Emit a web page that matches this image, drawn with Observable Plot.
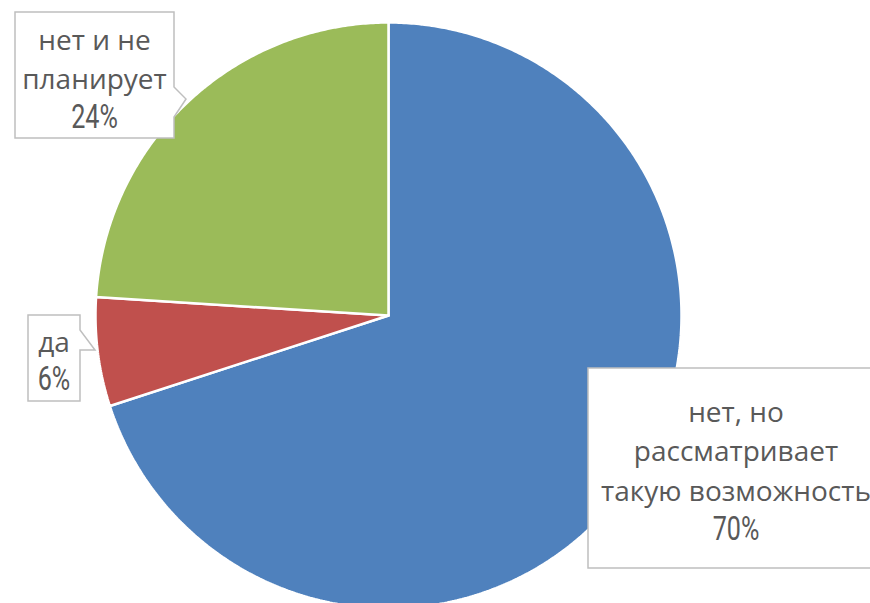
<!DOCTYPE html>
<html>
<head>
<meta charset="utf-8">
<script src="https://cdn.jsdelivr.net/npm/d3@7"></script>
<script src="https://cdn.jsdelivr.net/npm/@observablehq/plot@0.6"></script>
<style>
  html, body { margin: 0; padding: 0; background: #ffffff; }
  #chart { width: 870px; height: 603px; overflow: hidden; }
</style>
</head>
<body>
<div id="chart"></div>
<script>
// ---- data ----
const categories = ["нет, но рассматривает такую возможность", "да", "нет и не планирует"];
const labelLines = [["нет, но", "рассматривает", "такую возможность"], ["да"], ["нет и не", "планирует"]];
const values = [70, 6, 24];
const colors = ["#4F81BD", "#C0504D", "#9BBB59"];

// ---- layout of the callout boxes (pixels) ----
const callouts = [
  { box: [588, 368, 884, 568], pointer: null, cx: 736, baseline: 421.5, step: 39.5 },
  { box: [28, 315, 80, 401], pointer: [[80, 330], [95, 350], [80, 350]], cx: 54, baseline: 351.5, step: 38.5 },
  { box: [15, 12, 174, 138], pointer: [[174, 87], [186, 99], [174, 117]], cx: 94.5, baseline: 50, step: 39 }
];

// ---- build slice polygons from the values ----
const total = d3.sum(values);
const pts = [];
let acc = 0;
values.forEach((v, i) => {
  const a0 = acc / total * 2 * Math.PI;
  acc += v;
  const a1 = acc / total * 2 * Math.PI;
  const n = Math.max(2, Math.ceil((a1 - a0) / (Math.PI / 360)));
  pts.push({ name: categories[i], x: 0, y: 0 });
  for (let k = 0; k <= n; k++) {
    const a = a0 + (a1 - a0) * k / n;
    pts.push({ name: categories[i], x: Math.sin(a), y: Math.cos(a) });
  }
  pts.push({ name: categories[i], x: 0, y: 0 });
});

const chart = Plot.plot({
  width: 870,
  height: 603,
  margin: 0,
  style: { background: "#ffffff", overflow: "hidden" },
  x: { domain: [-1, 1], range: [95, 681], axis: null },
  y: { domain: [-1, 1], range: [608, 22], axis: null },
  color: { domain: categories, range: colors },
  marks: [
    Plot.line(pts, { x: "x", y: "y", z: "name", fill: "name", stroke: "#ffffff", strokeWidth: 2.5, strokeLinejoin: "miter" })
  ]
});
document.getElementById("chart").appendChild(chart);

// ---- callout labels ----
const svg = d3.select(chart);
const g = svg.append("g");
callouts.forEach((c, i) => {
  const [x0, y0, x1, y1] = c.box;
  let path = [[x0, y0], [x1, y0]];
  if (c.pointer) path = path.concat(c.pointer);
  path = path.concat([[x1, y1], [x0, y1]]);
  g.append("path")
    .attr("d", "M" + path.map(p => p.join(",")).join("L") + "Z")
    .attr("fill", "#ffffff")
    .attr("stroke", "#BFBFBF")
    .attr("stroke-width", 1.5);
  const lines = labelLines[i];
  lines.forEach((t, j) => {
    g.append("text")
      .attr("x", c.cx)
      .attr("y", c.baseline + j * c.step)
      .attr("text-anchor", "middle")
      .attr("font-family", "'Open Sans', 'Noto Sans', sans-serif")
      .attr("font-size", 28)
      .attr("fill", "#595959")
      .text(t);
  });
  g.append("text")
    .attr("transform", `translate(${c.cx},${c.baseline + lines.length * c.step}) scale(0.74,1)`)
    .attr("text-anchor", "middle")
    .attr("font-family", "Roboto, 'DejaVu Sans', sans-serif")
    .attr("font-size", 34)
    .attr("fill", "#595959")
    .text(Math.round(values[i] / total * 100) + "%");
});
</script>
</body>
</html>
